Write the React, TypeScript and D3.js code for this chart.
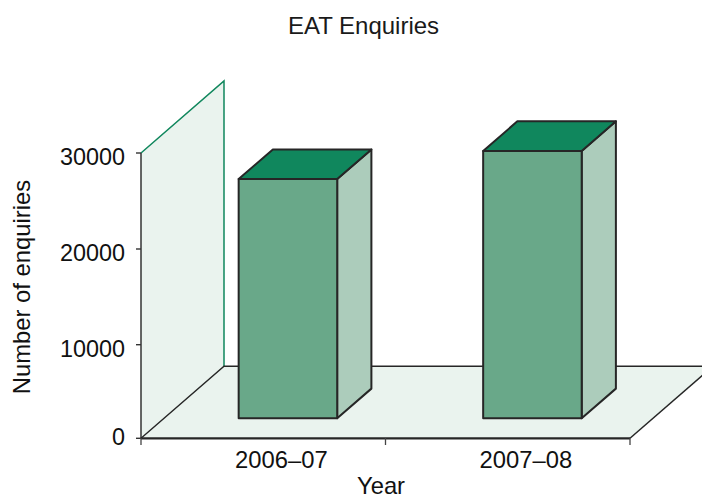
import * as d3 from "d3";

const categories = ["2006–07", "2007–08"];
const enquiries = [25200, 28125];
const yTicks = [0, 10000, 20000, 30000];

const width = 702;
const height = 499;
const font = "'Liberation Sans', Arial, sans-serif";

const ink = "#262626";
const green = "#10875d";
const frontFill = "#69a889";
const sideFill = "#acccbb";
const wallFill = "#eaf3ee";

const x = d3.scaleBand<string>().domain(categories).range([141, 630]);
// the printed axis is not quite even, so each tick gets its own stop
const y = d3.scaleLinear().domain(yTicks).range([438.3, 344.7, 249, 153]);

// depth axis: 0 is the front of the floor, 1 is the back wall
const depthX = d3.scaleLinear().domain([0, 1]).range([0, 83]);
const depthY = d3.scaleLinear().domain([0, 1]).range([0, -72]);
const barFront = 0.278;
const barBack = 0.69;

const line = d3.line();
type P = [number, number];
const pt = (px: number, value: number, z: number): P => [px + depthX(z), y(value) + depthY(z)];

export default function App() {
  const [x0, x1] = x.range();
  const top = 30000;

  return (
    <svg
      width={width}
      height={height}
      viewBox={`0 0 ${width} ${height}`}
      style={{ position: "absolute", left: 0, top: 0, fontFamily: font }}
    >
      <text x={363.5} y={34} textAnchor="middle" fontSize={24} fill="#1a1a1a">
        EAT Enquiries
      </text>

      {/* back wall */}
      <path d={line([pt(x0, 0, 0), pt(x0, top, 0), pt(x0, top, 1), pt(x0, 0, 1)]) + "Z"} fill={wallFill} />
      <path d={line([pt(x0, top, 0), pt(x0, top, 1), pt(x0, 0, 1)]) ?? ""} fill="none" stroke={green} strokeWidth={1.5} />
      <path d={line([pt(x0, 0, 0), pt(x0, top, 0)]) ?? ""} stroke="#333" strokeWidth={1.5} />

      {/* floor */}
      <path d={line([pt(x0, 0, 0), pt(x1, 0, 0), pt(x1, 0, 1), pt(x0, 0, 1)]) + "Z"} fill={wallFill} />
      <path d={line([pt(x0, 0, 0), pt(x0, 0, 1), pt(x1, 0, 1)]) ?? ""} fill="none" stroke={ink} strokeWidth={1.4} />
      <path d={line([pt(x1, 0, 0), pt(x1, 0, 1)]) ?? ""} stroke={ink} strokeWidth={1.5} />
      <path d={line([pt(x0, 0, 0), pt(x1, 0, 0)]) ?? ""} stroke={ink} strokeWidth={2.2} />

      {/* y axis */}
      {yTicks.map((t) => (
        <g key={t}>
          <line x1={x0 - 5} x2={x0} y1={y(t)} y2={y(t)} stroke="#333" strokeWidth={1.4} />
          <text x={125} y={y(t) + (t === 0 ? 7 : 12)} textAnchor="end" fontSize={23.4} fill="#111">
            {t}
          </text>
        </g>
      ))}
      <text
        transform="translate(30,287) rotate(-90)"
        textAnchor="middle"
        fontSize={23.8}
        fill="#111"
      >
        Number of enquiries
      </text>

      {/* x axis */}
      {[...categories.map((c) => x(c) as number), x1].map((t) => (
        <line key={t} x1={t} x2={t} y1={438} y2={445} stroke="#444" strokeWidth={1.3} />
      ))}
      {categories.map((c) => (
        <text
          key={c}
          x={(x(c) as number) + x.bandwidth() * 0.574}
          y={468}
          textAnchor="middle"
          fontSize={23.8}
          fill="#111"
        >
          {c}
        </text>
      ))}
      <text x={381} y={494} textAnchor="middle" fontSize={23.8} fill="#111">
        Year
      </text>

      {/* bars */}
      {categories.map((c, i) => {
        const left = (x(c) as number) + x.bandwidth() * 0.307 - depthX(barFront) + 22.6;
        const right = left + x.bandwidth() * 0.403;
        const v = enquiries[i];
        return (
          <g key={c} stroke={ink} strokeWidth={2} strokeLinejoin="round">
            <path
              d={line([pt(right, 0, barFront), pt(right, 0, barBack), pt(right, v, barBack), pt(right, v, barFront)]) + "Z"}
              fill={sideFill}
            />
            <path
              d={line([pt(left, v, barFront), pt(left, v, barBack), pt(right, v, barBack), pt(right, v, barFront)]) + "Z"}
              fill={green}
            />
            <path
              d={line([pt(left, 0, barFront), pt(right, 0, barFront), pt(right, v, barFront), pt(left, v, barFront)]) + "Z"}
              fill={frontFill}
            />
          </g>
        );
      })}
    </svg>
  );
}
